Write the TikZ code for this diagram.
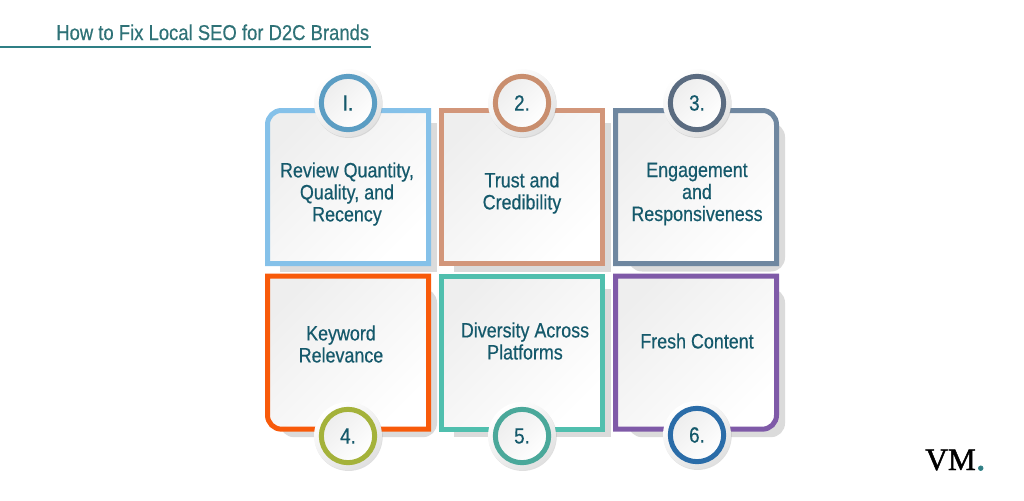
\documentclass[tikz,border=0pt]{standalone}
\usepackage{fontspec}
\setmainfont[FakeStretch=0.86,FakeBold=0.5]{Liberation Sans}
\newfontfamily\logofont[FakeBold=1.5]{Liberation Serif}
\usetikzlibrary{positioning,shadows}

\definecolor{inkteal}{HTML}{15596B}
\definecolor{titleteal}{HTML}{2F7277}
\definecolor{ruleteal}{HTML}{2F7F85}
\definecolor{frameone}{HTML}{85C1E9}
\definecolor{frametwo}{HTML}{D2967A}
\definecolor{framethree}{HTML}{6F87A0}
\definecolor{framefour}{HTML}{F85A0A}
\definecolor{framefive}{HTML}{50BFAE}
\definecolor{framesix}{HTML}{7F5AA8}
\definecolor{ringone}{HTML}{5B9DC3}
\definecolor{ringtwo}{HTML}{C98E6E}
\definecolor{ringthree}{HTML}{5A6B80}
\definecolor{ringfour}{HTML}{A4B23A}
\definecolor{ringfive}{HTML}{4AA89A}
\definecolor{ringsix}{HTML}{2A6CA8}

\tikzset{
    cardbase/.style={minimum width=120.75pt, minimum height=114.75pt,
                     inner sep=0pt, outer sep=0pt},
    cardframe/.style={line width=3.75pt, top color=gray!13, bottom color=white,
                      shading angle=45},
    cardshadow/.style={fill=black!14},
    cardtext/.style={text=inkteal, font=\fontsize{15.6}{16.5}\selectfont,
                     align=center, inner sep=0pt},
    badgedisc/.style={circle, minimum size=51pt, inner sep=0pt, top color=white,
                      bottom color=gray!24, shading angle=35,
                      drop shadow={shadow xshift=.5pt, shadow yshift=-.7pt,
                                   opacity=.25}},
    badgering/.style={circle, minimum size=40pt, inner sep=0pt,
                      line width=3.75pt, top color=gray!14, bottom color=white,
                      shading angle=45, text=inkteal,
                      font=\fontsize{16.5}{16.5}\selectfont}
}

\begin{document}
\begin{tikzpicture}[x=0.75pt, y=-0.75pt]
    \useasboundingbox (0,0) rectangle (1024,500);

    % Add the title
    \coordinate (ruleleft) at (0,47);
    \coordinate (ruleright) at (371,47);
    \node[text=titleteal, font=\fontsize{16.1}{18}\selectfont, anchor=base west,
          inner sep=0pt] (title) at (56,40) {How to Fix Local SEO for D2C Brands};
    \draw[ruleteal, line width=1.5pt] (ruleleft) -- (ruleright);

    % Add the cards
    \node[cardbase] (card1) at (348,187) {};
    \node[cardbase, right=9.75pt of card1] (card2) {};
    \node[cardbase, right=9.75pt of card2] (card3) {};
    \node[cardbase, below=9.5pt of card1] (card4) {};
    \node[cardbase, right=9.75pt of card4] (card5) {};
    \node[cardbase, right=9.75pt of card5] (card6) {};

    % Shadows behind the cards
    \fill[cardshadow] ([shift={(12.5,12.5)}]card1.north west) rectangle ([shift={(8.5,8)}]card1.south east);
    \fill[cardshadow] ([shift={(12.5,12.5)}]card2.north west) rectangle ([shift={(8.5,8)}]card2.south east);
    \fill[cardshadow, rounded corners=10.5pt] ([shift={(12.5,12.5)}]card3.north west) rectangle ([shift={(8.5,8)}]card3.south east);
    \fill[cardshadow, rounded corners=10.5pt] ([shift={(12.5,12.5)}]card4.north west) rectangle ([shift={(8.5,8)}]card4.south east);
    \fill[cardshadow] ([shift={(12.5,12.5)}]card5.north west) rectangle ([shift={(8.5,8)}]card5.south east);
    \fill[cardshadow, rounded corners=10.5pt] ([shift={(12.5,12.5)}]card6.north west) rectangle ([shift={(8.5,8)}]card6.south east);

    % Frames, one rounded corner at most
    \draw[cardframe, draw=frameone] (card1.west) [rounded corners=10.5pt] |- (card1.north) [sharp corners] -| (card1.east) |- (card1.south) -| (card1.west) -- cycle;
    \draw[cardframe, draw=frametwo] (card2.west) |- (card2.north) -| (card2.east) |- (card2.south) -| (card2.west) -- cycle;
    \draw[cardframe, draw=framethree] (card3.west) |- (card3.north) [rounded corners=10.5pt] -| (card3.east) [sharp corners] |- (card3.south) -| (card3.west) -- cycle;
    \draw[cardframe, draw=framefour] (card4.west) |- (card4.north) -| (card4.east) |- (card4.south) [rounded corners=10.5pt] -| (card4.west) [sharp corners] -- cycle;
    \draw[cardframe, draw=framefive] (card5.west) |- (card5.north) -| (card5.east) |- (card5.south) -| (card5.west) -- cycle;
    \draw[cardframe, draw=framesix] (card6.west) |- (card6.north) -| (card6.east) [rounded corners=10.5pt] |- (card6.south) [sharp corners] -| (card6.west) -- cycle;

    % Card texts
    \node[cardtext] (text1) at (347,194) {Review Quantity,\\Quality, and\\Recency};
    \node[cardtext] (text2) at (522,193) {Trust and\\Credibility};
    \node[cardtext] (text3) at (697,194) {Engagement\\and\\Responsiveness};
    \node[cardtext] (text4) at (341,344) {Keyword\\Relevance};
    \node[cardtext] (text5) at (525,341) {Diversity Across\\Platforms};
    \node[cardtext] (text6) at (697,341) {Fresh Content};

    % Add the badges
    \node[badgedisc] (disc1) at (348,103) {};
    \node[badgedisc] (disc2) at (522,103) {};
    \node[badgedisc] (disc3) at (697,103) {};
    \node[badgedisc] (disc4) at (348,436) {};
    \node[badgedisc] (disc5) at (522,436) {};
    \node[badgedisc] (disc6) at (697,435) {};
    \node[badgering, draw=ringone] (badge1) at (disc1) {I.};
    \node[badgering, draw=ringtwo] (badge2) at (disc2) {2.};
    \node[badgering, draw=ringthree] (badge3) at (disc3) {3.};
    \node[badgering, draw=ringfour] (badge4) at (disc4) {4.};
    \node[badgering, draw=ringfive] (badge5) at (disc5) {5.};
    \node[badgering, draw=ringsix] (badge6) at (disc6) {6.};

    % Add the logo
    \node[anchor=base west, inner sep=0pt, font=\logofont\fontsize{23.5}{24}\selectfont] (logo) at (925,470) {VM\textcolor{ruleteal}{\fontsize{30}{24}\selectfont.}};
\end{tikzpicture}
\end{document}
